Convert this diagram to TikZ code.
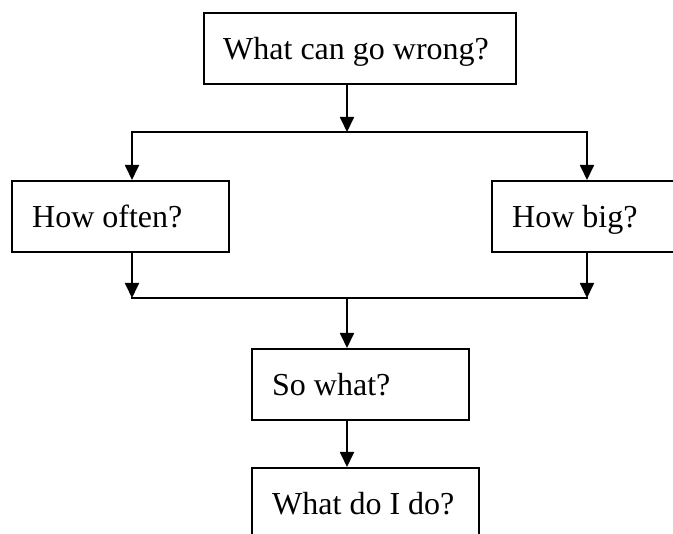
\documentclass[tikz,border=0pt]{standalone}
\usepackage{fontspec}
\setmainfont{Liberation Serif}
\usetikzlibrary{arrows.meta}
\begin{document}
\begin{tikzpicture}[x=1pt,y=-1pt,
  box/.style={draw, line width=1.8pt, anchor=north west, minimum height=71pt,
    inner sep=0pt},
  caption/.style={anchor=west, inner sep=0pt, text height=21.5pt, text depth=0pt,
    font=\fontsize{32}{38}\selectfont},
  link/.style={line width=1.8pt},
  flow/.style={line width=1.8pt, -{Triangle[length=15pt,width=14pt]}}]
  \useasboundingbox (0,0) rectangle (673,534);
  \clip (0,0) rectangle (673,534);

  % question boxes
  \node[box, minimum width=312pt] (top)    at (203,12)  {};
  \node[box, minimum width=217pt] (often)  at (11,180)  {};
  \node[box, minimum width=200pt] (big)    at (491,180) {};
  \node[box, minimum width=217pt] (sowhat) at (251,348) {};
  \node[box, minimum width=227pt] (todo)   at (251,467) {};

  % their questions, set flush left inside each box
  \node[caption] (top-t)    at ([xshift=20pt]top.west)    {What can go wrong?};
  \node[caption] (often-t)  at ([xshift=21pt]often.west)  {How often?};
  \node[caption] (big-t)    at ([xshift=21pt]big.west)    {How big?};
  \node[caption] (sowhat-t) at ([xshift=21pt]sowhat.west) {So what?};
  \node[caption] (todo-t)   at ([xshift=21pt]todo.west)   {What do I do?};

  % junction points on the two horizontal rails
  \coordinate (j1) at (347,132);
  \coordinate (l1) at (132,132);
  \coordinate (r1) at (587,132);
  \coordinate (j2) at (347,298);
  \coordinate (l2) at (132,298);
  \coordinate (r2) at (587,298);

  % split
  \draw[flow] (top.south -| j1) -- (j1);
  \draw[link, line cap=rect] (l1) -- (r1);
  \draw[flow] (l1) -- (often.north -| l1);
  \draw[flow] (r1) -- (big.north -| r1);

  % merge
  \draw[flow] (often.south -| l2) -- (l2);
  \draw[flow] (big.south -| r2) -- (r2);
  \draw[link, line cap=rect] (l2) -- (r2);
  \draw[flow] (j2) -- (sowhat.north -| j2);
  \draw[flow] (sowhat.south -| j2) -- (todo.north -| j2);
\end{tikzpicture}
\end{document}
